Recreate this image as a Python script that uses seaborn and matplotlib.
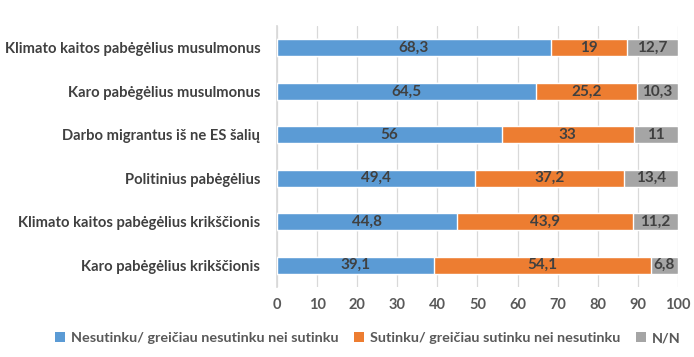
import matplotlib
matplotlib.use("Agg")
import matplotlib.pyplot as plt
import seaborn as sns
import pandas as pd
import numpy as np
from matplotlib.patches import Patch

categories = ["Klimato kaitos pabėgėlius musulmonus", "Karo pabėgėlius musulmonus",
              "Darbo migrantus iš ne ES šalių", "Politinius pabėgėlius",
              "Klimato kaitos pabėgėlius krikščionis", "Karo pabėgėlius krikščionis"]
disagree = [68.3, 64.5, 56, 49.4, 44.8, 39.1]
agree = [19, 25.2, 33, 37.2, 43.9, 54.1]
nn = [12.7, 10.3, 11, 13.4, 11.2, 6.8]
series_names = ["Nesutinku/ greičiau nesutinku nei sutinku",
                "Sutinku/ greičiau sutinku nei nesutinku", "N/N"]
colors = ["#5B9BD5", "#ED7D31", "#A5A5A5"]
xticks = list(range(0, 101, 10))

sns.set_theme(style="white")
plt.rcParams['font.family'] = ['Lato', 'DejaVu Sans']

df = pd.DataFrame({"cat": categories, "d": disagree, "a": agree, "n": nn})
df["c1"] = df["d"]
df["c2"] = df["d"] + df["a"]
df["c3"] = df["d"] + df["a"] + df["n"]

fig = plt.figure(figsize=(6.94, 3.57), dpi=100)
ax = fig.add_axes([0.399, 0.196, 0.578, 0.731])

for col, color in zip(["c3", "c2", "c1"], colors[::-1]):
    sns.barplot(data=df, y="cat", x=col, color=color, orient="h", width=0.39,
                ax=ax, saturation=1, zorder=3)

ax.set_xlim(0, 100)
ax.set_xticks(xticks)
ax.grid(axis="x", color="#D9D9D9", linewidth=0.9, zorder=0)
ax.set_axisbelow(True)
for s in ["top", "right", "bottom"]:
    ax.spines[s].set_visible(False)
ax.spines["left"].set_color("#D9D9D9")
ax.set_xlabel("")
ax.set_ylabel("")
ax.tick_params(axis="x", length=0, pad=8, labelsize=10.5, labelcolor="#595959")
ax.tick_params(axis="y", length=0, pad=12, labelsize=10.6, labelcolor="#404040")
for lab in ax.get_yticklabels() + ax.get_xticklabels():
    lab.set_fontweight("bold")

# data labels
for i in range(len(categories)):
    starts = [0, disagree[i], disagree[i] + agree[i]]
    vals = [disagree[i], agree[i], nn[i]]
    for s, v in zip(starts, vals):
        txt = ("%g" % v).replace(".", ",")
        ax.text(s + v / 2, i, txt, ha="center", va="center", fontsize=11,
                fontweight="bold", color="#404040", zorder=5)

handles = [Patch(facecolor=c, edgecolor="none") for c in colors]
fig.legend(handles, series_names, loc="center", bbox_to_anchor=(0.53, 0.052),
           ncol=3, frameon=False, handlelength=0.7, handleheight=0.7,
           handletextpad=0.4, columnspacing=1.1,
           labelcolor="#595959", prop={"size": 10.4, "weight": "bold"})

fig.savefig("out.png", dpi=100)
